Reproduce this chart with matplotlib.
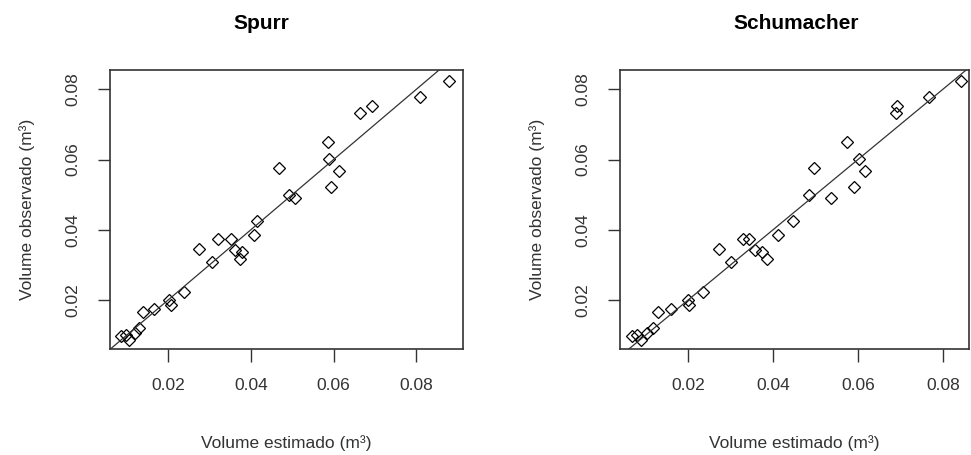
# Volume observado vs. estimado - Spurr e Schumacher

import matplotlib.pyplot as plt
import numpy as np

plt.rcParams['font.family'] = ['Liberation Sans', 'DejaVu Sans']

titles = ['Spurr', 'Schumacher']

vol_obs = [0.0098, 0.0099, 0.0087, 0.0106, 0.0120, 0.0164, 0.0175, 0.0201, 0.0186,
           0.0223, 0.0345, 0.0309, 0.0373, 0.0373, 0.0342, 0.0317, 0.0337, 0.0386,
           0.0425, 0.0576, 0.0499, 0.0491, 0.0649, 0.0602, 0.0522, 0.0567, 0.0734,
           0.0752, 0.0779, 0.0823]

est_spurr = [0.0086, 0.0098, 0.0105, 0.0120, 0.0129, 0.0139, 0.0166, 0.0202, 0.0207,
             0.0238, 0.0274, 0.0306, 0.0320, 0.0351, 0.0361, 0.0373, 0.0378, 0.0407,
             0.0414, 0.0467, 0.0492, 0.0506, 0.0586, 0.0588, 0.0593, 0.0612, 0.0665,
             0.0692, 0.0810, 0.0878]

est_schumacher = [0.0068, 0.0078, 0.0088, 0.0103, 0.0118, 0.0129, 0.0159, 0.0199, 0.0201,
                  0.0235, 0.0272, 0.0301, 0.0328, 0.0342, 0.0357, 0.0385, 0.0374, 0.0411,
                  0.0448, 0.0496, 0.0485, 0.0537, 0.0574, 0.0603, 0.0590, 0.0617, 0.0689,
                  0.0693, 0.0768, 0.0843]

xlims = [(0.0059, 0.0913), (0.0039, 0.0862)]
ylim = (0.0060, 0.0855)
ticks = [0.02, 0.04, 0.06, 0.08]

fig = plt.figure(figsize=(9.71, 4.55), dpi=100)
ax1 = fig.add_axes([0.1133, 0.233, 0.3635, 0.613])
ax2 = fig.add_axes([0.6385, 0.233, 0.3595, 0.613])

title_x = [0.269, 0.82]

for ax, est, title, xl, tx in zip([ax1, ax2], [est_spurr, est_schumacher], titles, xlims, title_x):
    ax.plot(est, vol_obs, linestyle='none', marker='D', ms=6, mfc='none',
            mec='black', mew=0.9)
    ax.plot([0, 0.1], [0, 0.1], color='#333333', lw=0.9)
    ax.set_xlim(*xl)
    ax.set_ylim(*ylim)
    ax.set_xticks(ticks)
    ax.set_yticks(ticks)
    ax.set_xticklabels(['0.02', '0.04', '0.06', '0.08'], fontsize=12.5, color='#333333')
    ax.set_yticklabels(['0.02', '0.04', '0.06', '0.08'], fontsize=12.5, color='#333333',
                       rotation=90, va='center')
    ax.tick_params(length=9, width=1, pad=12, color='#333333')
    for s in ax.spines.values():
        s.set_color('#333333')
        s.set_linewidth(1.2)
    ax.set_xlabel('Volume estimado (m³)', fontsize=12.5, color='#333333', labelpad=30)
    ax.set_ylabel('Volume observado (m³)', fontsize=12.5, color='#333333', labelpad=22)
    fig.text(tx, 0.948, title, fontsize=15, fontweight='bold', ha='center', va='center')

plt.savefig('out.png', dpi=100)
